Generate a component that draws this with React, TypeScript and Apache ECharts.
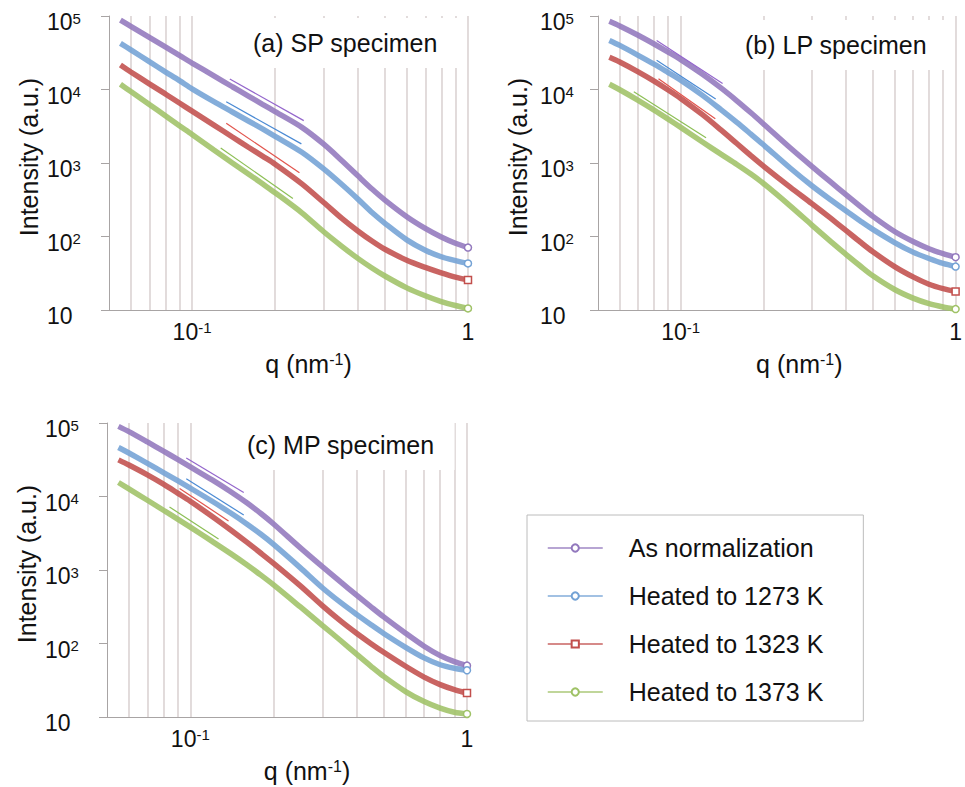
import React, { useEffect, useRef } from 'react';
import * as echarts from 'echarts';

// q values (nm^-1) at which the curves were read
const Q = [0.055, 0.06, 0.07, 0.08, 0.09, 0.1, 0.12, 0.14, 0.16, 0.18, 0.2, 0.25, 0.3, 0.35, 0.4, 0.45, 0.5, 0.6, 0.7, 0.8, 0.9, 1.0];

// vertical grid lines (q values)
const GRID_Q = [0.06, 0.07, 0.08, 0.09, 0.1, 0.2, 0.3, 0.4, 0.5, 0.6, 0.7, 0.8, 0.9, 1];

const SERIES_NAMES = ['As normalization', 'Heated to 1273 K', 'Heated to 1323 K', 'Heated to 1373 K'];

// (a) SP specimen
const aNorm = [88000, 72400, 51200, 37900, 29100, 22900, 15350, 10900, 8150, 6290, 4990, 3050, 1800, 1066, 663, 439, 313, 186, 129, 98.5, 81, 70.7];
const a1273 = [42500, 34600, 23900, 17400, 13200, 10200, 6830, 4940, 3730, 2910, 2310, 1400, 830, 505, 320, 210, 151, 90, 65, 53, 47, 43];
const a1323 = [21500, 17300, 11950, 8700, 6540, 5080, 3280, 2260, 1640, 1240, 963, 520, 290, 175, 118, 86, 67, 47.5, 38, 32, 28, 25.6];
const a1373 = [11800, 9370, 6250, 4400, 3220, 2450, 1500, 1000, 710, 521, 394, 210, 116, 73, 50, 37, 29, 20, 15.6, 13, 11.5, 10.5];
const aFitQ = [[0.137, 0.254], [0.133, 0.249], [0.133, 0.245], [0.127, 0.232]];
const aFitI = [[13900, 3770], [6800, 1820], [3470, 738], [1600, 330]];

// (b) LP specimen
const bNorm = [85000, 73300, 54700, 41600, 32300, 25500, 16100, 10500, 7020, 4820, 3400, 1610, 899, 557, 369, 257, 188, 117, 85.5, 68.2, 58.5, 52.3];
const b1273 = [46500, 39800, 29200, 22100, 17000, 13400, 8320, 5320, 3570, 2470, 1770, 855, 490, 318, 222, 163, 125, 82.8, 61.3, 50.2, 43, 39];
const b1323 = [27500, 23700, 17400, 13000, 9850, 7560, 4540, 2820, 1840, 1260, 908, 470, 280, 179, 120, 84.1, 62, 38.9, 28.2, 22.4, 19.5, 17.9];
const b1373 = [11800, 9920, 7120, 5240, 3950, 3050, 1930, 1320, 955, 707, 526, 261, 143, 86.5, 56.8, 39.7, 29.2, 19.0, 14.5, 12.2, 11.0, 10.3];
const bFitQ = [[0.0817, 0.142], [0.0817, 0.134], [0.083, 0.1336], [0.0675, 0.1236]];
const bFitI = [[46500, 12100], [25000, 7400], [14000, 4000], [9300, 2200]];

// (c) MP specimen
const cNorm = [90000, 76300, 55200, 41400, 32000, 25300, 16800, 11600, 8210, 5870, 4230, 2000, 1110, 682, 451, 315, 230, 138, 91.9, 68.5, 56.7, 50];
const c1273 = [46500, 39100, 28300, 21200, 16400, 13000, 8610, 5950, 4230, 3060, 2230, 1070, 574, 359, 247, 180, 137, 88.7, 63.7, 51.4, 46, 43.2];
const c1323 = [31500, 26800, 19700, 14700, 11100, 8600, 5350, 3500, 2390, 1690, 1230, 607, 327, 201, 136.5, 99.3, 75.9, 49, 34.9, 27.6, 23.6, 21.2];
const c1373 = [15500, 12700, 8900, 6500, 4930, 3830, 2450, 1670, 1180, 851, 627, 314, 177, 109, 71, 49, 35.7, 22.2, 16.2, 13.2, 11.6, 11.0];
const cFitQ = [[0.0967, 0.156], [0.0967, 0.156], [0.0915, 0.1375], [0.0841, 0.1265]];
const cFitI = [[33500, 11300], [17500, 5600], [12800, 4650], [7200, 2650]];

const FONT = '"Liberation Sans", Arial, Helvetica, sans-serif';
const COLORS = ['#9278bd', '#73a2d5', '#c24f4c', '#9fc266'];
const FIT_COLORS = ['#9466cc', '#4a8ad4', '#e2544c', '#8cbf55'];
const SYMBOLS = ['emptyCircle', 'emptyCircle', 'emptyRect', 'emptyCircle'];
const END_SYMBOLS = ['circle', 'circle', 'rect', 'circle'];

const PANELS = [
  {
    title: '(a) SP specimen',
    titlePos: { left: 239, top: 18 },
    grid: { left: 109, top: 16, width: 359, height: 294 },
    curves: [aNorm, a1273, a1323, a1373],
    fitQ: aFitQ, fitI: aFitI,
    yLabelMargin: 62, xNamePad: 40,
  },
  {
    title: '(b) LP specimen',
    titlePos: { left: 731, top: 20 },
    grid: { left: 598, top: 16, width: 361, height: 294 },
    curves: [bNorm, b1273, b1323, b1373],
    fitQ: bFitQ, fitI: bFitI,
    yLabelMargin: 58, xNamePad: 45,
  },
  {
    title: '(c) MP specimen',
    titlePos: { left: 233, top: 420 },
    grid: { left: 107, top: 423, width: 360, height: 294 },
    curves: [cNorm, c1273, c1323, c1373],
    fitQ: cFitQ, fitI: cFitI,
    yLabelMargin: 62, xNamePad: 40,
  },
];

const supRich = {
  b: { fontSize: 23, color: '#111', fontFamily: FONT },
  s: { fontSize: 15, color: '#111', fontFamily: FONT, verticalAlign: 'top' },
};

function buildOption() {
  const grids: any[] = [];
  const xAxes: any[] = [];
  const yAxes: any[] = [];
  const titles: any[] = [];
  const series: any[] = [];

  PANELS.forEach((p, i) => {
    grids.push({ ...p.grid, containLabel: false });
    titles.push({
      text: p.title,
      left: p.titlePos.left,
      top: p.titlePos.top,
      padding: [10, 20, 10, 14],
      backgroundColor: '#ffffff',
      z: 6,
      textStyle: { fontSize: 25, fontWeight: 'normal', color: '#111', fontFamily: FONT, lineHeight: 30 },
    });
    xAxes.push({
      type: 'log',
      logBase: 10,
      gridIndex: i,
      min: 0.05,
      max: 1,
      axisLine: { show: true, lineStyle: { color: '#a8a4a4', width: 1 } },
      axisTick: { show: false },
      splitLine: { show: false },
      axisLabel: {
        showMinLabel: false,
        margin: 10,
        formatter: (v: number) => {
          const e = Math.round(Math.log10(v));
          if (e === 0) return '{b|1}';
          return `{b|10}{s|${e}}`;
        },
        rich: supRich,
      },
      name: '{n|q (nm}{s|-1}{n|)}',
      nameLocation: 'middle',
      nameGap: 41,
      nameTextStyle: {
        padding: [0, 0, 0, p.xNamePad],
        rich: {
          n: { fontSize: 25, color: '#111', fontFamily: FONT },
          s: { fontSize: 16, color: '#111', fontFamily: FONT, verticalAlign: 'top' },
        },
      },
    });
    yAxes.push({
      type: 'log',
      logBase: 10,
      gridIndex: i,
      min: 10,
      max: 100000,
      axisLine: { show: true, lineStyle: { color: '#a8a4a4', width: 1 } },
      axisTick: { show: true, length: 8, lineStyle: { color: '#a8a4a4' } },
      splitLine: { show: false },
      axisLabel: {
        align: 'left',
        margin: p.yLabelMargin,
        padding: [12, 0, 0, 0],
        formatter: (v: number) => {
          const e = Math.round(Math.log10(v));
          return e === 1 ? '{b|10}' : `{b|10}{s|${e}}`;
        },
        rich: supRich,
      },
      name: 'Intensity (a.u.)',
      nameLocation: 'middle',
      nameGap: 68,
      nameTextStyle: { fontSize: 25, color: '#111', fontFamily: FONT, padding: [0, 0, 0, 12] },
    });

    p.curves.forEach((vals, k) => {
      const s: any = {
        name: SERIES_NAMES[k],
        type: 'line',
        xAxisIndex: i,
        yAxisIndex: i,
        data: Q.map((q, j) => [q, vals[j]]),
        symbol: SYMBOLS[k],
        symbolSize: 6,
        showSymbol: false,
        smooth: 0.3,
        silent: true,
        z: 3,
        lineStyle: { width: 5.5, color: COLORS[k], opacity: 0.88 },
        itemStyle: { color: COLORS[k] },
        markPoint: {
          silent: true,
          symbol: END_SYMBOLS[k],
          symbolSize: 7,
          label: { show: false },
          itemStyle: { color: '#ffffff', borderColor: COLORS[k], borderWidth: 1.5 },
          data: [{ coord: [Q[Q.length - 1], vals[vals.length - 1]] }],
        },
      };
      if (k === 3) {
        s.markLine = {
          silent: true,
          z: 1,
          symbol: ['none', 'none'],
          label: { show: false },
          lineStyle: { color: '#dbd3d3', width: 1.6, type: 'solid' },
          data: GRID_Q.map((q) => ({ xAxis: q })),
        };
      }
      series.push(s);
    });

    p.fitQ.forEach((qs, k) => {
      series.push({
        name: `fit-${i}-${k}`,
        type: 'line',
        xAxisIndex: i,
        yAxisIndex: i,
        data: [[qs[0], p.fitI[k][0]], [qs[1], p.fitI[k][1]]],
        symbol: 'none',
        silent: true,
        z: 4,
        lineStyle: { width: 1.2, color: FIT_COLORS[k] },
      });
    });
  });

  return {
    animation: false,
    backgroundColor: '#ffffff',
    textStyle: { fontFamily: FONT },
    title: titles,
    grid: grids,
    xAxis: xAxes,
    yAxis: yAxes,
    legend: {
      data: SERIES_NAMES,
      orient: 'vertical',
      left: 527,
      top: 515,
      padding: [18, 40, 14, 20],
      borderColor: '#bcbcbc',
      borderWidth: 1,
      itemWidth: 55,
      itemHeight: 9,
      itemGap: 18,
      lineStyle: { width: 1.5 },
      textStyle: { fontSize: 25, color: '#111', fontFamily: FONT, lineHeight: 30, padding: [0, 0, 0, 21] },
    },
    series,
  };
}

export default function App() {
  const ref = useRef<HTMLDivElement>(null);
  useEffect(() => {
    if (!ref.current) return;
    const chart = echarts.init(ref.current, undefined, { renderer: 'svg' });
    chart.setOption(buildOption() as any);
    return () => chart.dispose();
  }, []);
  return (
    <div
      ref={ref}
      style={{ position: 'fixed', left: 0, top: 0, width: 965, height: 787, background: '#fff' }}
    />
  );
}
